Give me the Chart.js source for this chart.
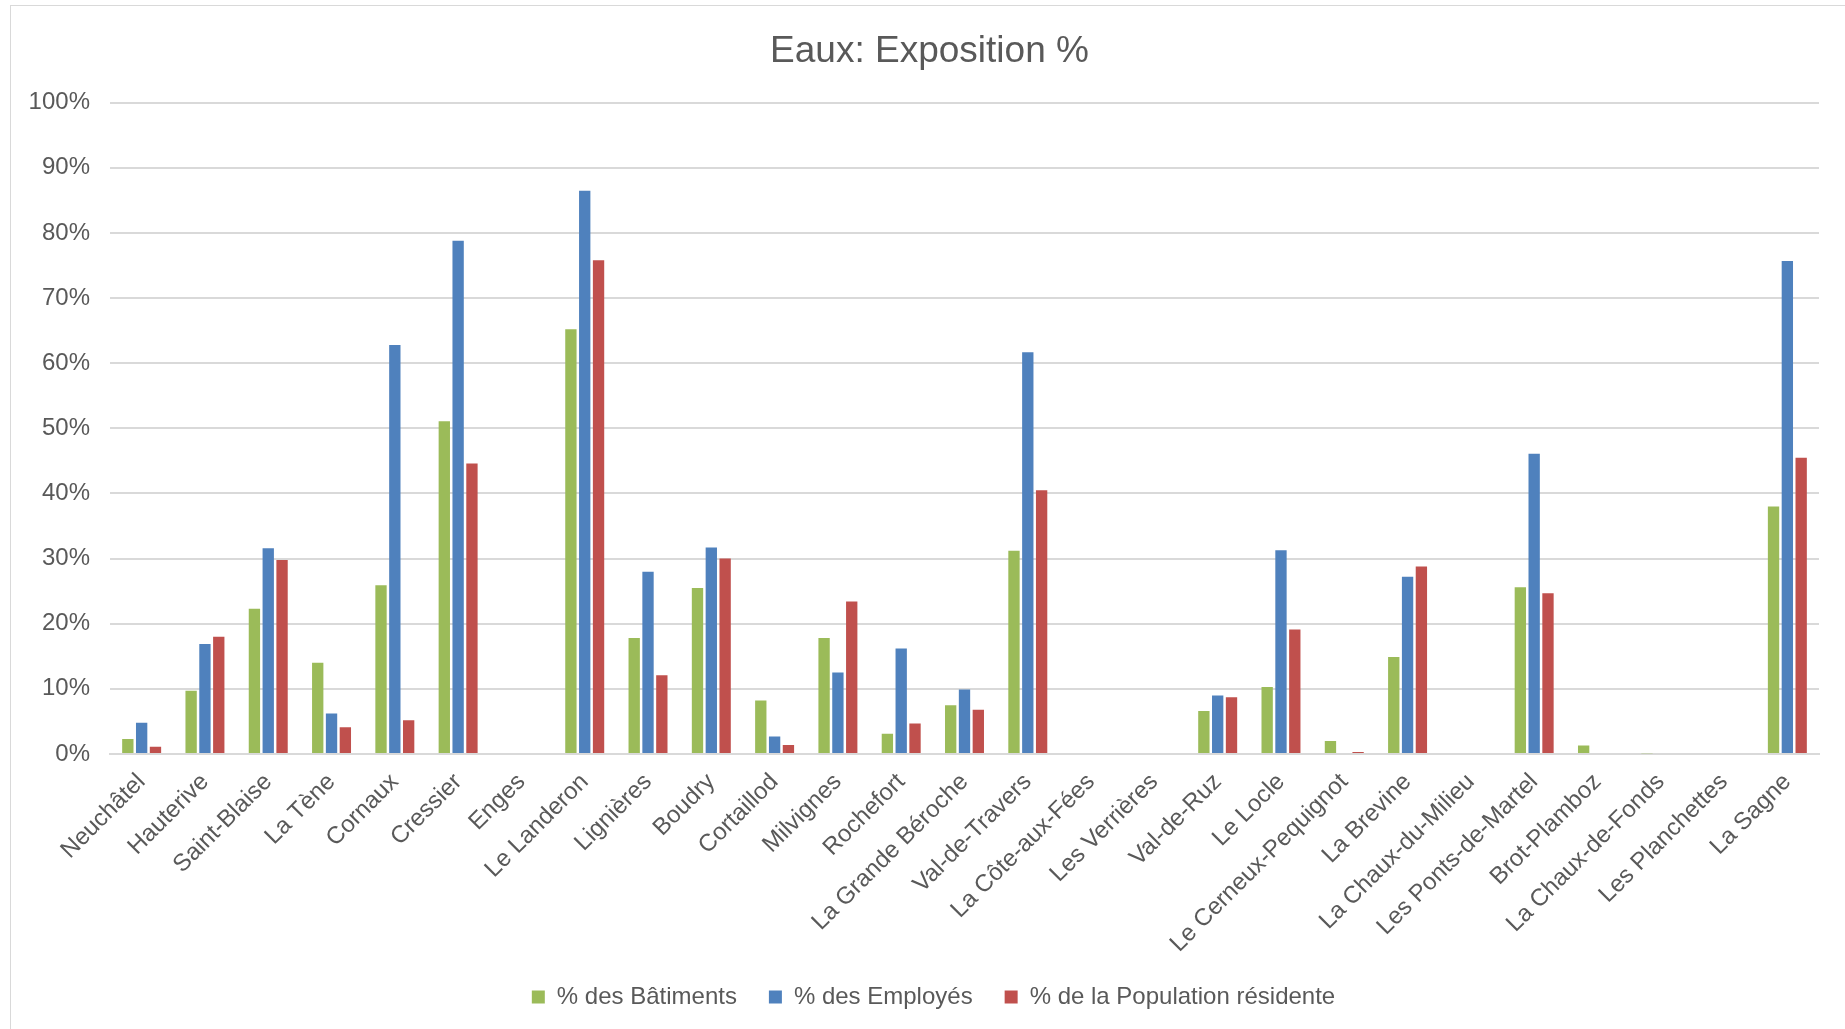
<!DOCTYPE html>
<html>
<head>
<meta charset="utf-8">
<title>Eaux: Exposition %</title>
<script src="https://cdn.jsdelivr.net/npm/chart.js@4.4.0/dist/chart.umd.min.js"></script>
<style>
  html, body { margin: 0; padding: 0; background: #fff; overflow: hidden; }
  #frame { position: absolute; left: 10px; top: 5px; width: 1900px; height: 1100px; border: 1px solid #d9d9d9; }
  #wrap { position: absolute; left: 0; top: 0; width: 1845px; height: 1029px; }
</style>
</head>
<body>
<div id="frame"></div>
<div id="wrap"><canvas id="chart" width="1845" height="1029"></canvas></div>
<script>
// communes (category axis)
const communes = [
  "Neuchâtel", "Hauterive", "Saint-Blaise", "La Tène", "Cornaux", "Cressier", "Enges",
  "Le Landeron", "Lignières", "Boudry", "Cortaillod", "Milvignes", "Rochefort",
  "La Grande Béroche", "Val-de-Travers", "La Côte-aux-Fées", "Les Verrières", "Val-de-Ruz",
  "Le Locle", "Le Cerneux-Pequignot", "La Brevine", "La Chaux-du-Milieu",
  "Les Ponts-de-Martel", "Brot-Plamboz", "La Chaux-de-Fonds", "Les Planchettes", "La Sagne"
];

// values in %
const batiments = [2.3, 9.7, 22.3, 14.0, 25.9, 51.1, 0, 65.2, 17.8, 25.5, 8.2, 17.8, 3.1,
  7.5, 31.2, 0, 0, 6.6, 10.3, 2.0, 14.9, 0, 25.6, 1.3, 0.1, 0, 38.0];
const employes = [4.8, 16.9, 31.6, 6.2, 62.8, 78.8, 0, 86.5, 28.0, 31.7, 2.7, 12.5, 16.2,
  9.9, 61.7, 0, 0, 9.0, 31.3, 0, 27.2, 0, 46.1, 0, 0, 0, 75.7];
const population = [1.1, 18.0, 29.8, 4.1, 5.2, 44.6, 0, 75.8, 12.1, 30.0, 1.4, 23.4, 4.7,
  6.8, 40.5, 0, 0, 8.7, 19.1, 0.3, 28.8, 0, 24.7, 0, 0, 0, 45.5];

const seriesNames = ["% des Bâtiments", "% des Employés", "% de la Population résidente"];
const yTicks = [0, 10, 20, 30, 40, 50, 60, 70, 80, 90, 100];

const font = "'Liberation Sans', Arial, sans-serif";
const grey = "#595959";

// title and legend sit a bit right of the canvas centre in the original
const nudge = {
  id: "nudge",
  beforeDraw(chart) {
    const w = chart.width - 26;
    if (chart.legend) { chart.legend.left = 24; chart.legend.right = w + 24; }
    if (chart.titleBlock) { chart.titleBlock.left = 20; chart.titleBlock.right = w + 20; }
  }
};

new Chart(document.getElementById("chart"), {
  type: "bar",
  data: {
    labels: communes,
    datasets: [
      { label: seriesNames[0], data: batiments, backgroundColor: "#9BBB59" },
      { label: seriesNames[1], data: employes, backgroundColor: "#4F81BD" },
      { label: seriesNames[2], data: population, backgroundColor: "#C0504D" }
    ]
  },
  options: {
    responsive: false,
    animation: false,
    categoryPercentage: 0.655,
    barPercentage: 0.82,
    layout: { padding: { left: 0, right: 26, top: 0, bottom: 10 } },
    plugins: {
      title: {
        display: true,
        text: "Eaux: Exposition %",
        color: grey,
        font: { family: font, size: 37, weight: "normal" },
        padding: { top: 29.5, bottom: 28.8 }
      },
      legend: {
        position: "bottom",
        labels: {
          color: grey,
          font: { family: font, size: 24 },
          boxWidth: 13,
          boxHeight: 13,
          padding: 32
        }
      },
      tooltip: { enabled: false }
    },
    scales: {
      x: {
        grid: { display: false, drawTicks: false },
        border: { display: true, color: "#d9d9d9", width: 2 },
        ticks: {
          color: grey,
          font: { family: font, size: 24 },
          minRotation: 45,
          maxRotation: 45,
          autoSkip: false,
          padding: 14
        },
        afterFit: scale => { scale.height = 199; }
      },
      y: {
        min: 0,
        max: 100,
        afterBuildTicks: scale => { scale.ticks = yTicks.map(v => ({ value: v })); },
        grid: { color: "#d9d9d9", lineWidth: 2, drawTicks: false },
        border: { display: false },
        ticks: {
          color: grey,
          font: { family: font, size: 24 },
          padding: 20,
          callback: v => v + "%"
        },
        afterFit: scale => { scale.width = 110; }
      }
    }
  },
  plugins: [nudge]
});
</script>
</body>
</html>
